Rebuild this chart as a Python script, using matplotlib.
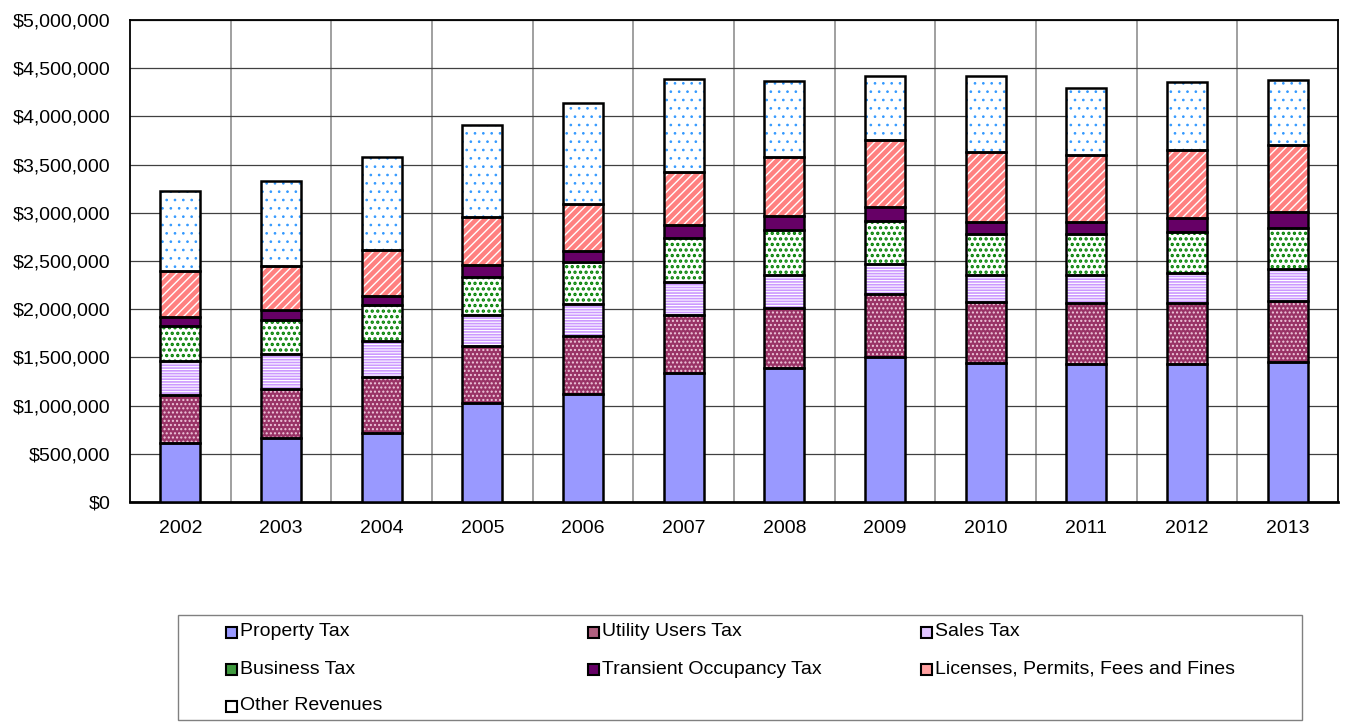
import numpy as np
import matplotlib
matplotlib.use('Agg')
import matplotlib.pyplot as plt
from matplotlib.patches import Rectangle
from matplotlib.ticker import FuncFormatter, MultipleLocator

plt.rcParams['font.family'] = ['Liberation Sans', 'DejaVu Sans']
plt.rcParams['font.size'] = 14

years = ['2002', '2003', '2004', '2005', '2006', '2007', '2008', '2009', '2010', '2011', '2012', '2013']

# values in dollars
property_tax = [615000, 667000, 719000, 1024000, 1124000, 1335000, 1387000, 1507000, 1439000, 1430000, 1432000, 1455000]
utility_tax = [498000, 508000, 581000, 591000, 601000, 605000, 629000, 648000, 636000, 634000, 629000, 633000]
sales_tax = [353000, 360000, 373000, 325000, 326000, 342000, 342000, 314000, 283000, 291000, 311000, 332000]
business_tax = [360000, 356000, 371000, 394000, 436000, 453000, 464000, 443000, 422000, 425000, 425000, 425000]
transient_tax = [96000, 97000, 96000, 121000, 120000, 138000, 148000, 145000, 121000, 128000, 152000, 160000]
licenses = [471000, 463000, 471000, 501000, 481000, 550000, 612000, 695000, 733000, 695000, 702000, 698000]
other_rev = [830000, 879000, 971000, 955000, 1051000, 965000, 785000, 670000, 788000, 695000, 706000, 678000]

# name, values, face, hatch, hatch colour, hatch width, legend swatch colour
series = [
    ('Property Tax', property_tax, '#9999FF', None, None, 0, '#9999FF'),
    ('Utility Users Tax', utility_tax, '#993366', '....', '#F0C8DC', 1.0, '#B0607F'),
    ('Sales Tax', sales_tax, 'white', '------', '#CC99FF', 1.2, '#E0C4FF'),
    ('Business Tax', business_tax, 'white', '...', '#008000', 1.6, '#3F9A3F'),
    ('Transient Occupancy Tax', transient_tax, '#660066', None, None, 0, '#660066'),
    ('Licenses, Permits, Fees and Fines', licenses, '#FF8080', '////', 'white', 1.0, '#FFA0A0'),
    ('Other Revenues', other_rev, 'white', '..', '#3399FF', 0.7, 'white'),
]

W, H = 1351, 727
fig = plt.figure(figsize=(W / 100, H / 100), dpi=100)
ax = fig.add_axes([130 / W, 1 - 502 / H, 1208 / W, 482 / H])

x = np.arange(len(years))
bottom = np.zeros(len(years))
width = 0.4
for name, vals, face, hatch, hcol, hlw, swatch in series:
    vals = np.array(vals)
    if hatch:
        with plt.rc_context({'hatch.linewidth': hlw}):
            ax.bar(x, vals, width, bottom=bottom, color=face, hatch=hatch,
                   edgecolor=hcol, linewidth=0, zorder=3)
    else:
        ax.bar(x, vals, width, bottom=bottom, color=face, linewidth=0, zorder=3)
    ax.bar(x, vals, width, bottom=bottom, fill=False, edgecolor='black',
           linewidth=1.8, zorder=4)
    bottom += vals

ax.set_xlim(-0.5, len(years) - 0.5)
ax.set_ylim(0, 5000000)
ax.set_xticks(x)
ax.set_xticklabels(years)
ax.set_xticks(np.arange(0.5, len(years) - 0.5, 1), minor=True)
ax.yaxis.set_major_locator(MultipleLocator(500000))
ax.yaxis.set_major_formatter(FuncFormatter(lambda v, p: '${:,.0f}'.format(v)))
ax.tick_params(which='both', length=0)
ax.tick_params(axis='x', pad=13)
ax.tick_params(axis='y', pad=14)
ax.grid(axis='y', which='major', color='#404040', linewidth=0.9, zorder=1)
ax.grid(axis='x', which='minor', color='#A0A0A0', linewidth=1.4, zorder=1)
for s in ax.spines.values():
    s.set_color('black')
    s.set_linewidth(1.3)
ax.spines['bottom'].set_linewidth(2)


# legend box drawn by hand, three columns filled row by row
def fx(px):
    return px / W


def fy(py):
    return 1 - py / H


fig.patches.append(Rectangle((fx(178), fy(720)), fx(1302) - fx(178), fy(615) - fy(720),
                             transform=fig.transFigure, fill=False,
                             edgecolor='#808080', linewidth=1.0))
col_x = [226, 588, 921]
row_y = [632, 669, 706]
box = 11
for i, (name, vals, face, hatch, hcol, hlw, swatch) in enumerate(series):
    cx = col_x[i % 3]
    cy = row_y[i // 3]
    fig.patches.append(Rectangle((fx(cx), fy(cy + box / 2)), fx(box), box / H,
                                 transform=fig.transFigure, facecolor=swatch,
                                 edgecolor='black', linewidth=1.5))
    fig.text(fx(cx + box + 3), fy(cy), name, ha='left', va='center', fontsize=14)

fig.savefig('out.png', dpi=100)
